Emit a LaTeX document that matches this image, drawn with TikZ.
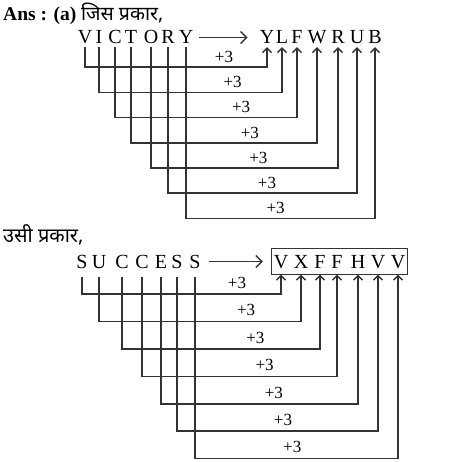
\documentclass[tikz,border=0pt]{standalone}
\usepackage{fontspec}
\setmainfont{Liberation Serif}
\newfontfamily\hindi[Script=Devanagari]{Noto Sans}
\usetikzlibrary{arrows.meta,positioning,fit}

\tikzset{
    ltr/.style={font=\fontsize{20}{20}\selectfont,inner xsep=0pt,
        text height=13pt,text depth=0pt,anchor=base},
    plus/.style={font=\fontsize{17}{17}\selectfont,inner sep=0pt},
    wire/.style={line width=1.5pt,draw=black!80,
        -{Straight Barb[length=4.5pt,width=9pt,line width=1.4pt]}},
    bigarr/.style={line width=1.5pt,draw=black!80,
        -{Straight Barb[length=6pt,width=12pt,line width=1.4pt]}}
}

\begin{document}
\begin{tikzpicture}[x=1pt,y=-1pt]
    \useasboundingbox (0,0) rectangle (450,462);
    % first word
    \node[anchor=base west,inner sep=0pt,font=\fontsize{19.5}{19.5}\selectfont] (ans) at (3,21)
        {\textbf{Ans : (a)} {\hindi\fontsize{19.5}{19.5}\selectfont जिस प्रकार,}};
    \foreach \c/\x [count=\k] in {V/85,I/99,C/115,T/131,O/151,R/168,Y/186}
        \node[ltr,inner ysep=3pt] (a\k) at (\x,44) {\c};
    \foreach \c/\x [count=\k] in {Y/267,L/282,F/297,W/317,R/338,U/357,B/375}
        \node[ltr,inner ysep=3pt] (b\k) at (\x,44) {\c};
    \draw[bigarr,shorten <=6pt,shorten >=12pt] (a7) -- (b1);
    \foreach \k in {1,...,7}{
        \draw[wire] (a\k.south) -- ++(0,{20+25.2*(\k-1)}) -| (b\k.south);
        \node[plus] (p\k) at ({224+8.6*(\k-1)},{57+25.2*(\k-1)}) {+3};
    }
    % second word
    \node[anchor=base west,inner sep=0pt] (usi) at (3,242)
        {\hindi\fontsize{20}{20}\selectfont उसी प्रकार,};
    \foreach \c/\x [count=\k] in {S/82,U/99,C/122,C/142,E/161,S/177,S/195}
        \node[ltr,inner ysep=9pt] (c\k) at (\x,268) {\c};
    \foreach \c/\x [count=\k] in {V/281,X/301,F/320,F/337,H/358,V/378,V/398}
        \node[ltr,inner ysep=6.5pt] (d\k) at (\x,268) {\c};
    \node[draw=black!80,line width=1.5pt,fit=(d1)(d7),inner xsep=2pt,inner ysep=0pt] (box) {};
    \draw[bigarr,shorten <=8pt,shorten >=8pt] (c7) -- (box);
    \foreach \k in {1,...,7}{
        \draw[wire] (c\k.south) -- ++(0,{17+27.4*(\k-1)}) -| (d\k.south);
        \node[plus] (q\k) at ({237+9.2*(\k-1)},{283+27.4*(\k-1)}) {+3};
    }
\end{tikzpicture}
\end{document}
